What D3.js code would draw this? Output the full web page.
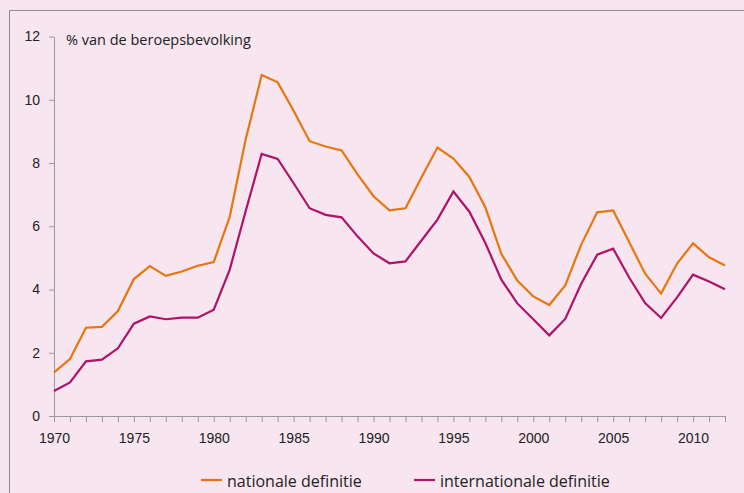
<!DOCTYPE html>
<html>
<head>
<meta charset="utf-8">
<script src="https://cdn.jsdelivr.net/npm/d3@7"></script>
<style>
  html, body { margin: 0; padding: 0; background: #f7e5ef; }
  svg { display: block; font-family: "Open Sans", sans-serif; }
  .axis text { font-size: 14px; fill: #222; }
  .axis line, .axis path { stroke: #9a9a9a; }
</style>
</head>
<body>
<svg width="744" height="493"></svg>
<script>
const years = d3.range(1970, 2013)
const nationaal = [1.38, 1.80, 2.79, 2.82, 3.32, 4.33, 4.74, 4.43, 4.57, 4.75, 4.87,
  6.30, 8.75, 10.78, 10.55, 9.65, 8.69, 8.52, 8.40, 7.64, 6.95,
  6.50, 6.57, 7.54, 8.49, 8.14, 7.56, 6.60, 5.13, 4.28, 3.78,
  3.51, 4.13, 5.42, 6.44, 6.50, 5.50, 4.50, 3.87, 4.82, 5.46,
  5.02, 4.76]
const internationaal = [0.79, 1.06, 1.73, 1.78, 2.14, 2.92, 3.15, 3.06, 3.11, 3.11, 3.36,
  4.63, 6.48, 8.29, 8.13, 7.36, 6.57, 6.36, 6.28, 5.68, 5.14,
  4.83, 4.89, 5.55, 6.21, 7.10, 6.46, 5.47, 4.31, 3.56, 3.06,
  2.55, 3.07, 4.18, 5.10, 5.29, 4.38, 3.57, 3.10, 3.75, 4.47,
  4.25, 4.01]
const yTicks = [0, 2, 4, 6, 8, 10, 12]
const xLabels = [1970, 1975, 1980, 1985, 1990, 1995, 2000, 2005, 2010]
const series = [
  {name: 'nationale definitie', values: nationaal, color: '#e8760f'},
  {name: 'internationale definitie', values: internationaal, color: '#b0126a'}
]

const margin = {top: 36.5, right: 19, bottom: 77, left: 54}
const width = 744
const height = 493

const svg = d3.select('svg')

// frame
svg.append('path')
  .attr('d', `M9.5,${height} V10.5 H${width}`)
  .attr('fill', 'none')
  .attr('stroke', '#8c8c8c')
  .attr('stroke-width', 1)

const x = d3.scaleLinear()
  .domain([1970, 2012])
  .range([margin.left, width - margin.right])

const y = d3.scaleLinear()
  .domain([0, 12])
  .range([height - margin.bottom, margin.top])

const xAxis = g => g
  .attr('class', 'axis')
  .attr('transform', `translate(0, ${height - margin.bottom})`)
  .call(d3.axisBottom(x).tickValues(years).tickSize(6).tickSizeOuter(0)
    .tickFormat(d => xLabels.includes(d) ? d : ''))
  .call(g => g.selectAll('.tick text').attr('dy', '1.3em'))

const yAxis = g => g
  .attr('class', 'axis')
  .attr('transform', `translate(${margin.left}, 0)`)
  .call(d3.axisLeft(y).tickValues(yTicks).tickSize(5).tickSizeOuter(0))
  .call(g => g.selectAll('.tick text').attr('x', -14))

svg.append('g').call(xAxis)
svg.append('g').call(yAxis)

svg.append('text')
  .attr('x', 66)
  .attr('y', 45)
  .attr('font-size', 14.5)
  .attr('fill', '#222')
  .text('% van de beroepsbevolking')

const line = d3.line()
  .x((d, i) => x(years[i]))
  .y(d => y(d))

svg.selectAll('path.serie')
  .data(series)
  .join('path')
  .attr('class', 'serie')
  .attr('d', d => line(d.values))
  .attr('fill', 'none')
  .attr('stroke', d => d.color)
  .attr('stroke-width', 2.2)
  .attr('stroke-linejoin', 'miter')

// legend
const legend = svg.selectAll('g.legend')
  .data(series)
  .join('g')
  .attr('class', 'legend')
  .attr('transform', (d, i) => `translate(${i === 0 ? 201 : 414}, 480)`)

legend.append('line')
  .attr('x1', 0).attr('x2', 21)
  .attr('stroke', d => d.color)
  .attr('stroke-width', 2.2)

legend.append('text')
  .attr('x', 26)
  .attr('y', 7)
  .attr('font-size', 16)
  .attr('fill', '#222')
  .text(d => d.name)
</script>
</body>
</html>
